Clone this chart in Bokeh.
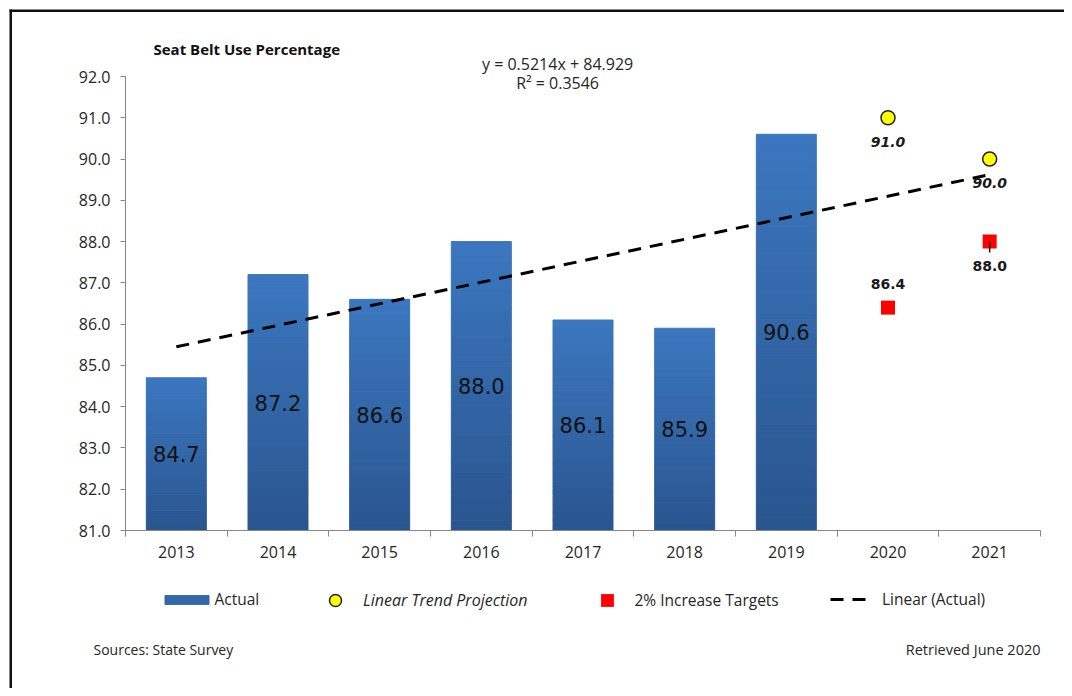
import numpy as np
from bokeh.plotting import figure
from bokeh.models import (ColumnDataSource, FixedTicker, PrintfTickFormatter, Label,
                          Legend, LegendItem)
from bokeh.core.properties import value
from bokeh.embed import file_html
from bokeh.resources import INLINE

# ---------------- data ----------------
years = ["2013", "2014", "2015", "2016", "2017", "2018", "2019", "2020", "2021"]
actual_years = ["2013", "2014", "2015", "2016", "2017", "2018", "2019"]
actual = [84.7, 87.2, 86.6, 88.0, 86.1, 85.9, 90.6]
projection_years = ["2020", "2021"]
projection = [91.0, 90.0]
target_years = ["2020", "2021"]
targets = [86.4, 88.0]
y_ticks = [81.0, 82.0, 83.0, 84.0, 85.0, 86.0, 87.0, 88.0, 89.0, 90.0, 91.0, 92.0]
title_text = "Seat Belt Use Percentage"
source_note = "Sources: State Survey"
retrieved_note = "Retrieved June 2020"
legend_labels = ["Actual", "Linear Trend Projection", "2% Increase Targets", "Linear (Actual)"]

# ---------------- derived ----------------
pos = {yr: i + 1 for i, yr in enumerate(years)}
y_min, y_max = y_ticks[0], y_ticks[-1]
x_lo, x_hi = 0.5, len(years) + 0.5

# linear fit over actual values (x = 1..n)
t = np.array([pos[y] for y in actual_years], dtype=float)
a = np.array(actual)
slope, intercept = np.polyfit(t, a, 1)
pred = slope * t + intercept
r2 = 1 - np.sum((a - pred) ** 2) / np.sum((a - a.mean()) ** 2)
trend_x = [t[0], float(pos[years[-1]])]
trend_y = [slope * x + intercept for x in trend_x]

# gradient bars: split each bar into slices
top_col = np.array([0x3b, 0x77, 0xbf], dtype=float)
bot_col = np.array([0x2a, 0x55, 0x8f], dtype=float)
nseg = 30
sx, sb, st, sc = [], [], [], []
for yr, v in zip(actual_years, actual):
    edges = np.linspace(y_min, v, nseg + 1)
    for k in range(nseg):
        f = (k + 0.5) / nseg
        c = bot_col + (top_col - bot_col) * f
        sx.append(pos[yr]); sb.append(edges[k]); st.append(edges[k + 1])
        sc.append("#%02x%02x%02x" % tuple(int(round(q)) for q in c))
bar_src = ColumnDataSource(dict(x=sx, bottom=sb, top=st, color=sc))

lab_src = ColumnDataSource(dict(
    x=[pos[y] for y in actual_years],
    y=[(y_min + v) / 2 for v in actual],
    text=["%.1f" % v for v in actual]))
proj_src = ColumnDataSource(dict(
    x=[pos[y] for y in projection_years], y=projection,
    text=["%.1f" % v for v in projection]))
targ_src = ColumnDataSource(dict(
    x=[pos[y] for y in target_years], y=targets,
    text=["%.1f" % v for v in targets]))

# ---------------- layout (pixels on the canvas) ----------------
W, H = 1064, 688
PL, PR, PT, PB = 125, 1040, 76, 530   # plot area edges
kx = (PR - PL) / (x_hi - x_lo)
ky = (PB - PT) / (y_max - y_min)
xr = (x_lo - PL / kx, x_lo + (W - PL) / kx)
yr_ = (y_max - (H - PT) / ky, y_max + PT / ky)

def cx(px):  # canvas px -> data x
    return xr[0] + px / kx

def cy(py):  # canvas px (from top) -> data y
    return yr_[1] - py / ky

p = figure(width=W, height=H, x_range=xr, y_range=yr_,
           output_backend="svg", toolbar_location=None, title_location=None,
           min_border=0, min_border_left=0, min_border_right=0,
           min_border_top=0, min_border_bottom=0)
p.outline_line_color = None
p.xgrid.visible = False
p.ygrid.visible = False
p.background_fill_color = "white"
p.border_fill_color = "white"

axis_col = "#878787"
txt_col = "#262626"

# outer frame border (top and left edges)
p.quad(left=[cx(9), cx(9)], right=[cx(W + 20), cx(11.5)],
       top=[cy(9), cy(9)], bottom=[cy(11.5), cy(H + 20)],
       fill_color="#111111", line_color=None)

# y axis
yax = p.yaxis[0]
yax.fixed_location = x_lo
yax.bounds = (y_min, y_max)
yax.ticker = FixedTicker(ticks=y_ticks, minor_ticks=[])
yax.formatter = PrintfTickFormatter(format="%.1f")
yax.axis_line_color = axis_col
yax.major_tick_line_color = axis_col
yax.major_tick_out = 5
yax.major_tick_in = 0
yax.minor_tick_line_color = None
yax.major_label_text_font = "Open Sans"
yax.major_label_text_font_size = "16px"
yax.major_label_text_color = txt_col
yax.major_label_standoff = 10

# x axis: labels at centers, ticks at category boundaries
xax = p.xaxis[0]
xax.fixed_location = y_min
xax.bounds = (x_lo, x_hi)
xax.ticker = FixedTicker(ticks=list(range(1, len(years) + 1)),
                         minor_ticks=[i + 0.5 for i in range(len(years) + 1)])
xax.major_label_overrides = {i + 1: yr for i, yr in enumerate(years)}
xax.axis_line_color = axis_col
xax.major_tick_line_color = None
xax.major_tick_out = 0
xax.major_tick_in = 0
xax.minor_tick_line_color = axis_col
xax.minor_tick_out = 6
xax.minor_tick_in = 0
xax.major_label_text_font = "Open Sans"
xax.major_label_text_font_size = "16px"
xax.major_label_text_color = txt_col
xax.major_label_standoff = 9

# bars
bars = p.vbar(x="x", bottom="bottom", top="top", width=0.59, source=bar_src,
              fill_color="color", line_color="color", line_width=1)
p.text(x="x", y="y", text="text", source=lab_src, text_align="center", text_baseline="middle",
       text_font=value("DejaVu Sans"), text_font_size="21px", text_color="#111111")

# trend line
trend = p.line(trend_x, trend_y, line_color="black", line_width=3, line_dash="13 9")

# projection circles
proj = p.scatter(x="x", y="y", source=proj_src, marker="circle", size=14,
                 fill_color="#ffff00", line_color="#222222", line_width=1.5)
p.text(x="x", y="y", text="text", source=proj_src, y_offset=24, text_align="center",
       text_baseline="middle", text_font=value("DejaVu Sans"), text_font_size="14px",
       text_font_style="bold italic", text_color="#1a1a1a")

# target squares
targ = p.scatter(x="x", y="y", source=targ_src, marker="square", size=14,
                 fill_color="#ff0000", line_color=None)
offs = [-24, 24]
targ_lab = ColumnDataSource(dict(x=targ_src.data["x"], y=targ_src.data["y"],
                                 text=targ_src.data["text"], off=offs))
p.text(x="x", y="y", text="text", source=targ_lab, y_offset="off", text_align="center",
       text_baseline="middle", text_font=value("DejaVu Sans"), text_font_size="14px",
       text_font_style="bold", text_color="#1a1a1a")
# leader line toward labels placed below their point
lead = [(xx, yy) for xx, yy, o in zip(targ_src.data["x"], targets, offs) if o > 0]
p.segment(x0=[q[0] for q in lead], y0=[q[1] for q in lead],
          x1=[q[0] for q in lead], y1=[q[1] - 11 / ky for q in lead],
          line_color="#111111", line_width=1.5)

# equation labels
eq_x = 4.75
p.add_layout(Label(x=eq_x, y=y_max, y_offset=13, text="y = %.4fx + %.3f" % (slope, intercept),
                   text_align="center", text_baseline="middle", text_font="Open Sans",
                   text_font_size="16px", text_color=txt_col))
p.add_layout(Label(x=eq_x, y=y_max, y_offset=-6, text="R² = %.4f" % r2,
                   text_align="center", text_baseline="middle", text_font="Open Sans",
                   text_font_size="16px", text_color=txt_col))

# title and notes
p.add_layout(Label(x=x_lo, y=y_max, x_offset=28, y_offset=28, text=title_text,
                   text_align="left", text_baseline="middle", text_font="Open Sans",
                   text_font_size="15px", text_font_style="bold", text_color="#111111"))
p.add_layout(Label(x=x_lo, y=y_min, x_offset=-32, y_offset=-119, text=source_note,
                   text_align="left", text_baseline="middle", text_font="Open Sans",
                   text_font_size="14px", text_color=txt_col))
p.add_layout(Label(x=x_hi, y=y_min, y_offset=-119, text=retrieved_note,
                   text_align="right", text_baseline="middle", text_font="Open Sans",
                   text_font_size="14.5px", text_color=txt_col))

# legends (one per entry, placed below the axis); location in frame pixels from bottom-left
LEG_CY = H - 600
def add_legend(item, x, gw, gh, standoff, italic=False):
    h = max(gh, 20)
    lg = Legend(items=[item], location=(x, LEG_CY - h / 2), orientation="horizontal",
                glyph_width=gw, glyph_height=gh, label_standoff=standoff,
                label_height=20, padding=0, margin=0, spacing=0,
                border_line_alpha=0, background_fill_alpha=0,
                label_text_font="Open Sans", label_text_font_size="15.5px",
                label_text_color=txt_col, label_text_baseline="middle")
    if italic:
        lg.label_text_font_style = "italic"
        lg.label_text_font_size = "16px"
    p.add_layout(lg)

mid_idx = nseg // 2
add_legend(LegendItem(label=legend_labels[0], renderers=[bars], index=mid_idx), 158.5, 55, 11, 1)
add_legend(LegendItem(label=legend_labels[1], renderers=[proj]), 320, 30, 30, 13, italic=True)
add_legend(LegendItem(label=legend_labels[2], renderers=[targ]), 590.5, 32, 32, 12)
add_legend(LegendItem(label=legend_labels[3], renderers=[trend]), 830, 37, 20, 15)

open("out.html", "w").write(file_html(p, INLINE))
